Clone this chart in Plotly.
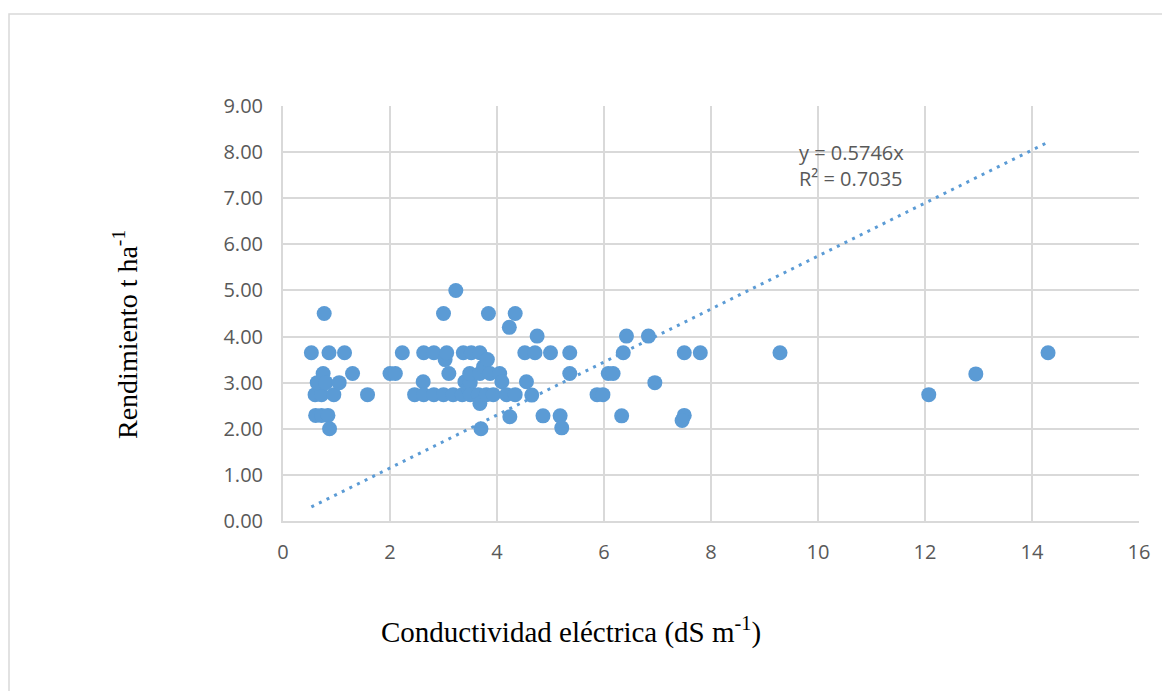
import plotly.graph_objects as go

# Conductividad eléctrica (dS m-1)
ce = [0.53, 0.60, 0.72, 0.64, 0.75, 0.77, 0.80, 0.86, 0.61, 0.72, 0.84, 0.87, 0.95, 1.05, 1.15, 1.30, 1.58,
      2.00, 2.10, 2.23, 2.46, 2.62, 2.63, 2.63, 2.82, 2.82, 3.00, 3.03, 3.06, 3.10, 3.00, 3.18, 3.23, 3.35,
      3.40, 3.37, 3.46, 3.50, 3.50, 3.49, 3.52, 3.65, 3.68, 3.68, 3.68, 3.70, 3.75, 3.80, 3.82, 3.84, 3.87,
      3.93, 4.05, 4.09, 4.18, 4.24, 4.23, 4.34, 4.34, 4.52, 4.55, 4.65, 4.71, 4.75, 4.86, 5.00, 5.18, 5.21,
      5.36, 5.36, 5.87, 5.98, 6.08, 6.17, 6.33, 6.36, 6.42, 6.83, 6.95, 7.50, 7.50, 7.46, 7.80, 9.29,
      12.07, 12.95, 14.30]
# Rendimiento t ha-1
rend = [3.65, 2.74, 2.74, 3.00, 3.20, 4.50, 3.00, 3.65, 2.29, 2.29, 2.29, 2.00, 2.74, 3.00, 3.65, 3.20, 2.74,
        3.20, 3.20, 3.65, 2.74, 3.02, 3.65, 2.74, 3.65, 2.74, 4.50, 3.50, 3.65, 3.20, 2.74, 2.74, 5.00, 2.74,
        3.02, 3.65, 2.88, 3.00, 2.74, 3.20, 3.65, 2.74, 3.20, 3.65, 2.55, 2.00, 3.35, 2.74, 3.50, 4.50, 3.20,
        2.74, 3.20, 3.02, 2.74, 2.26, 4.20, 4.50, 2.74, 3.65, 3.02, 2.73, 3.65, 4.01, 2.28, 3.65, 2.28, 2.02,
        3.65, 3.20, 2.74, 2.74, 3.20, 3.20, 2.28, 3.65, 4.01, 4.01, 3.00, 3.65, 2.29, 2.18, 3.65, 3.65,
        2.74, 3.19, 3.65]

slope = 0.5746
r2 = 0.7035
y_ticks = [0, 1, 2, 3, 4, 5, 6, 7, 8, 9]
y_tick_labels = ["0.00", "1.00", "2.00", "3.00", "4.00", "5.00", "6.00", "7.00", "8.00", "9.00"]
x_ticks = [0, 2, 4, 6, 8, 10, 12, 14, 16]

blue = "#5B9BD5"
grid = "#D9D9D9"
tick_color = "#595959"

x_line = [min(ce), max(ce)]
y_line = [slope * v for v in x_line]

# The page body has an 8px margin; the figure is sized so it fills the window.
W, H = 1162, 683
L, R, T, B = 275, 31, 98, 170
pw, ph = W - L - R, H - T - B  # 856 x 415


def px(sx):  # screen x -> paper x
    return (sx - 8 - L) / pw


def py(sy):  # screen y -> paper y
    return (H - B - (sy - 8)) / ph


fig = go.Figure()
fig.add_trace(go.Scatter(x=x_line, y=y_line, mode="lines",
                         line=dict(color=blue, width=3, dash="3px,5.5px"),
                         hoverinfo="skip", showlegend=False))
fig.add_trace(go.Scatter(x=ce, y=rend, mode="markers",
                         marker=dict(color=blue, size=15, line=dict(width=0)),
                         showlegend=False))

tick_font = dict(family="Open Sans, sans-serif", size=20, color=tick_color)
title_font = dict(family="Liberation Serif, Times New Roman, serif", size=29, color="black")

fig.update_layout(
    width=W, height=H,
    margin=dict(l=L, r=R, t=T, b=B),
    paper_bgcolor="white", plot_bgcolor="white",
    font=tick_font,
    xaxis=dict(range=[0, 16], tickvals=x_ticks, showgrid=True, gridcolor=grid, gridwidth=1.5,
               showline=True, linecolor=grid, linewidth=2, zeroline=False,
               ticks="", ticklabelstandoff=12, tickfont=tick_font),
    yaxis=dict(range=[0, 9], tickvals=y_ticks, ticktext=y_tick_labels, showgrid=True,
               gridcolor=grid, gridwidth=1.5, showline=True, linecolor=grid, linewidth=2,
               zeroline=False, ticks="", ticklabelstandoff=14, tickfont=tick_font),
    shapes=[dict(type="rect", xref="paper", yref="paper",
                 x0=px(9), x1=px(1163), y0=py(760), y1=py(14),
                 line=dict(color=grid, width=1.5), fillcolor="rgba(0,0,0,0)", layer="below")],
    annotations=[
        dict(text=f"y = {slope}x<br>R² = {r2}", xref="x", yref="y", x=9.6, y=7.72,
             xanchor="left", yanchor="middle", showarrow=False, align="left",
             font=tick_font),
        dict(text="Conductividad eléctrica (dS m<sup>-1</sup>)", xref="paper", yref="paper",
             x=px(571), y=py(630), xanchor="center", yanchor="middle",
             showarrow=False, font=title_font),
        dict(text="Rendimiento t ha<sup>-1</sup>", xref="paper", yref="paper",
             x=px(125), y=py(335), xanchor="center", yanchor="middle",
             textangle=-90, showarrow=False, font=dict(title_font, size=28)),
    ],
)

fig.write_html("out.html")
